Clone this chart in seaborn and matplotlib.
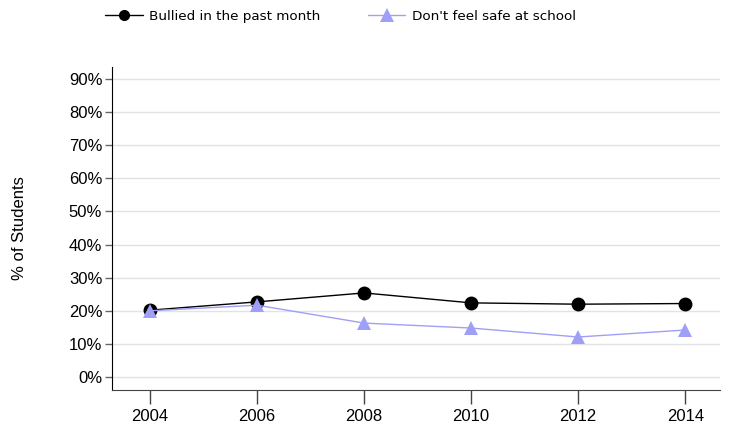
import pandas as pd
import numpy as np
import matplotlib
matplotlib.use('Agg')
import matplotlib.pyplot as plt
import seaborn as sns

years = [2004, 2006, 2008, 2010, 2012, 2014]
bullied = [20.2, 22.7, 25.4, 22.4, 22.0, 22.2]
unsafe = [20.0, 21.7, 16.3, 14.8, 12.1, 14.2]
series_names = ['Bullied in the past month', "Don't feel safe at school"]
y_ticks = list(range(0, 100, 10))

df = pd.DataFrame({
    'year': years * 2,
    'pct': bullied + unsafe,
    'series': [series_names[0]] * len(years) + [series_names[1]] * len(years),
})

sns.set_style('white')
plt.rcParams['font.family'] = ['Liberation Sans', 'DejaVu Sans']
plt.rcParams['text.color'] = 'black'
plt.rcParams['xtick.color'] = 'black'
plt.rcParams['ytick.color'] = 'black'
plt.rcParams['axes.labelcolor'] = 'black'

fig = plt.figure(figsize=(7.3, 4.32), dpi=100)
ax = fig.add_axes([0.1534, 0.0972, 0.8329, 0.7478])

purple = '#9f9ff7'
palette = {series_names[0]: 'black', series_names[1]: purple}
markers = {series_names[0]: 'o', series_names[1]: '^'}
sns.lineplot(data=df, x='year', y='pct', hue='series', style='series',
             palette=palette, markers=markers, dashes=False, markersize=10,
             markeredgewidth=0, linewidth=1.0, ax=ax, legend=False)

ax.set_xlim(2003.29, 2014.65)
ax.set_ylim(-3.9, 93.6)
ax.set_xticks(years)
ax.set_yticks(y_ticks)
ax.set_yticklabels([f'{v}%' for v in y_ticks])
ax.grid(axis='y', color='#e3e3e3', linewidth=1)
ax.set_axisbelow(True)
ax.set_xlabel('')
ax.set_ylabel('% of Students', fontsize=12)
ax.yaxis.set_label_coords(-0.14, 0.5)

for side in ['top', 'right']:
    ax.spines[side].set_visible(False)
ax.spines['left'].set_color('black')
ax.spines['bottom'].set_color('#444444')
ax.tick_params(axis='y', length=5, width=1, color='#666666', labelsize=12, pad=2, left=True)
ax.tick_params(axis='x', length=10, width=1, color='#444444', labelsize=12, pad=4, bottom=True)

handles = [
    plt.Line2D([], [], color='black', marker='o', markersize=7, linewidth=1.0),
    plt.Line2D([], [], color=purple, marker='^', markersize=10, markeredgewidth=0, linewidth=1.0),
]
fig.legend(handles, series_names, loc='upper left', bbox_to_anchor=(0.127, 1.005),
           ncol=2, frameon=False, columnspacing=3.5, handlelength=2.8, handletextpad=0.5,
           prop={'family': 'DejaVu Sans', 'size': 9.7})

fig.savefig('out.png', dpi=100)
